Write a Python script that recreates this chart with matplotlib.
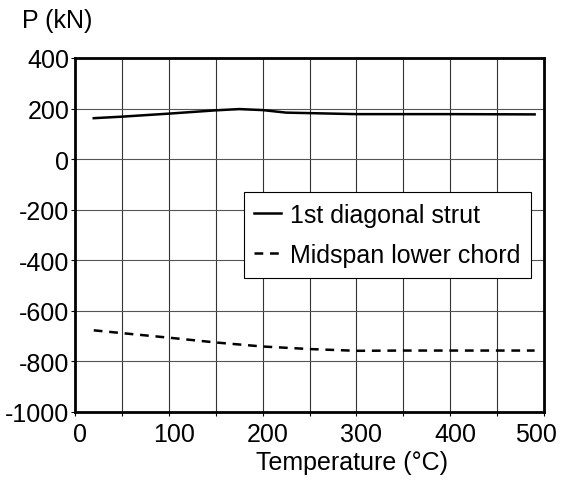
import matplotlib
matplotlib.use("Agg")
import matplotlib.pyplot as plt
import matplotlib.transforms as mtransforms
import numpy as np

plt.rcParams['font.family'] = ['Liberation Sans', 'DejaVu Sans']
plt.rcParams['axes.unicode_minus'] = False

# values
temp_strut = [20, 50, 100, 150, 175, 200, 225, 250, 300, 400, 490]
force_strut = [162, 168, 180, 193, 198, 194, 184, 182, 178, 178, 177]

temp_chord = [20, 50, 100, 150, 200, 250, 300, 350, 400, 490]
force_chord = [-677, -688, -706, -725, -741, -751, -758, -757, -757, -757]

x_ticks = [0, 100, 200, 300, 400, 500]
y_ticks = [-1000, -800, -600, -400, -200, 0, 200, 400]

fig = plt.figure(figsize=(5.63, 4.81), dpi=100)
ax = fig.add_axes([75 / 563, 68 / 481, 469 / 563, 354 / 481])

ax.plot(temp_strut, force_strut, color='black', lw=1.8,
        label='1st diagonal strut', zorder=3)
ax.plot(temp_chord, force_chord, color='black', lw=1.8, dashes=(3.5, 2.7),
        label='Midspan lower chord', zorder=3)

ax.set_xlim(0, 500)
ax.set_ylim(-1000, 400)
ax.set_xticks(x_ticks)
ax.set_xticks(np.arange(50, 500, 100), minor=True)
ax.set_yticks(y_ticks)
ax.tick_params(axis='both', which='both', direction='out', length=3,
               width=0.8, labelsize=18, pad=1)
ax.tick_params(axis='x', pad=4)

# nudge x tick labels like the original (last one pulled inside the image)
for lab in ax.get_xticklabels():
    dx = 5 if lab.get_text() != '500' else -8
    lab.set_transform(lab.get_transform() +
                      mtransforms.ScaledTranslation(dx / 100, 0, fig.dpi_scale_trans))

for v in np.arange(50, 500, 50):
    ax.axvline(v, color='#333333', lw=0.8, zorder=1)
for v in y_ticks[1:-1]:
    ax.axhline(v, color='#555555', lw=0.8, zorder=1)

for s in ax.spines.values():
    s.set_linewidth(2)

ax.set_xlabel('Temperature (°C)', fontsize=18, labelpad=3, x=0.59)
fig.text(22 / 563, 1 - 21 / 481, 'P (kN)', fontsize=18, va='center', ha='left')

leg = ax.legend(loc='upper left', bbox_to_anchor=(0.360, 0.6206),
                borderaxespad=0, fontsize=18, handlelength=1.05,
                handletextpad=0.38, borderpad=0.42, labelspacing=0.65,
                fancybox=False, framealpha=1, edgecolor='black')
leg.get_frame().set_linewidth(0.8)

fig.savefig('out.png', dpi=100)
